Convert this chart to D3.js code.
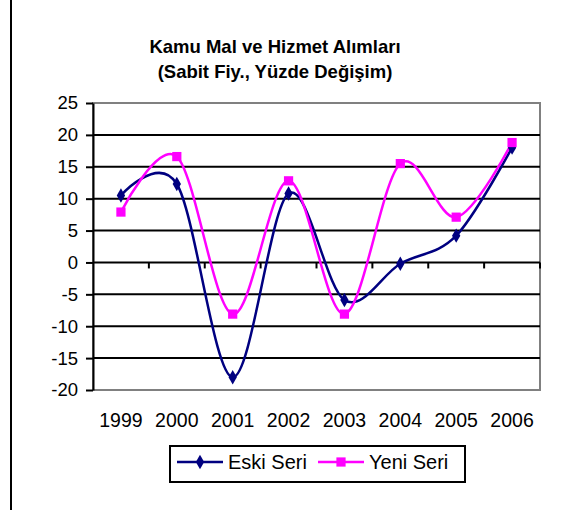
<!DOCTYPE html>
<html><head><meta charset="utf-8">
<script src="https://cdn.jsdelivr.net/npm/d3@7"></script>
<style>body{margin:0;background:#fff}svg{display:block}text{font-family:"Liberation Sans",Arial,sans-serif}</style>
</head><body>
<svg id="c" width="570" height="510"></svg>
<script>
const years = ["1999","2000","2001","2002","2003","2004","2005","2006"];
const eskiSeri = [10.5, 12.3, -18.0, 10.8, -5.9, -0.2, 4.2, 18.0];
const yeniSeri = [7.9, 16.6, -8.1, 12.8, -8.1, 15.5, 7.1, 18.8];
const yTicks = [25, 20, 15, 10, 5, 0, -5, -10, -15, -20];
const titleLines = ["Kamu Mal ve Hizmet Alımları", "(Sabit Fiy., Yüzde Değişim)"];
const seriesNames = ["Eski Seri", "Yeni Seri"];

const svg = d3.select("#c");
const L = 93, R = 540, T = 103, B = 390;
const x = d3.scaleBand().domain(years).range([L, R]);
const y = d3.scaleLinear().domain([-20, 25]).range([B, T]);

// outer left border
svg.append("line").attr("x1", 11).attr("x2", 11).attr("y1", 0).attr("y2", 510)
  .attr("stroke", "#000").attr("stroke-width", 2);

// title
svg.selectAll("text.title").data(titleLines).join("text")
  .attr("x", 275).attr("y", (d, i) => 53 + i * 25)
  .attr("text-anchor", "middle").attr("font-weight", "bold").attr("font-size", 18.5)
  .text(d => d);

// plot frame (gray)
svg.append("rect").attr("x", L).attr("y", T).attr("width", R - L).attr("height", B - T)
  .attr("fill", "none").attr("stroke", "#808080").attr("stroke-width", 2);

// gridlines
svg.selectAll("line.grid").data(yTicks.filter(v => v !== 25 && v !== -20)).join("line")
  .attr("x1", L).attr("x2", R).attr("y1", d => y(d)).attr("y2", d => y(d))
  .attr("stroke", "#000").attr("stroke-width", 2);

// y axis
const yAxis = svg.append("g").attr("transform", `translate(${L},0)`)
  .call(d3.axisLeft(y).tickValues(yTicks).tickSize(7).tickPadding(8).tickSizeOuter(0)
    .tickFormat(d => String(d)));
yAxis.select(".domain").attr("stroke", "#000").attr("stroke-width", 2);
yAxis.selectAll(".tick line").attr("stroke", "#000").attr("stroke-width", 2);
yAxis.selectAll(".tick text").attr("font-size", 18.5).attr("fill", "#000")
  .attr("font-family", '"Liberation Sans",Arial,sans-serif');

// x axis at zero with category boundary ticks
const bounds = years.map(d => x(d) + x.bandwidth());
svg.selectAll("line.xt").data(bounds).join("line")
  .attr("x1", d => d).attr("x2", d => d).attr("y1", y(0)).attr("y2", y(0) + 6)
  .attr("stroke", "#000").attr("stroke-width", 2);
svg.selectAll("text.xl").data(years).join("text")
  .attr("x", d => x(d) + x.bandwidth() / 2).attr("y", 427)
  .attr("text-anchor", "middle").attr("font-size", 19.5).text(d => d);

// lines
const line = d3.line().x((d, i) => x(years[i]) + x.bandwidth() / 2).y(d => y(d))
  .curve(d3.curveCardinal.tension(0));
const series = [
  {name: seriesNames[0], values: eskiSeri, color: "#000080", marker: d3.symbolDiamond},
  {name: seriesNames[1], values: yeniSeri, color: "#FF00FF", marker: d3.symbolSquare}
];
series.forEach(s => {
  svg.append("path").attr("d", line(s.values)).attr("fill", "none")
    .attr("stroke", s.color).attr("stroke-width", 2.5);
});
series.forEach(s => {
  svg.selectAll(null).data(s.values).join("path")
    .attr("transform", (d, i) => `translate(${x(years[i]) + x.bandwidth() / 2},${y(d)})`)
    .attr("d", d3.symbol().type(s.marker).size(s.marker === d3.symbolSquare ? 85 : 60))
    .attr("fill", s.color);
});

// legend
svg.append("rect").attr("x", 170).attr("y", 446).attr("width", 295).attr("height", 36)
  .attr("fill", "#fff").attr("stroke", "#000").attr("stroke-width", 2);
const lx = [177, 318];
series.forEach((s, i) => {
  svg.append("line").attr("x1", lx[i]).attr("x2", lx[i] + 46).attr("y1", 462).attr("y2", 462)
    .attr("stroke", s.color).attr("stroke-width", 2.5);
  svg.append("path").attr("transform", `translate(${lx[i] + 23},462)`)
    .attr("d", d3.symbol().type(s.marker).size(s.marker === d3.symbolSquare ? 85 : 60))
    .attr("fill", s.color);
  svg.append("text").attr("x", lx[i] + 51).attr("y", 469).attr("font-size", 20).text(s.name);
});
</script>
</body></html>
